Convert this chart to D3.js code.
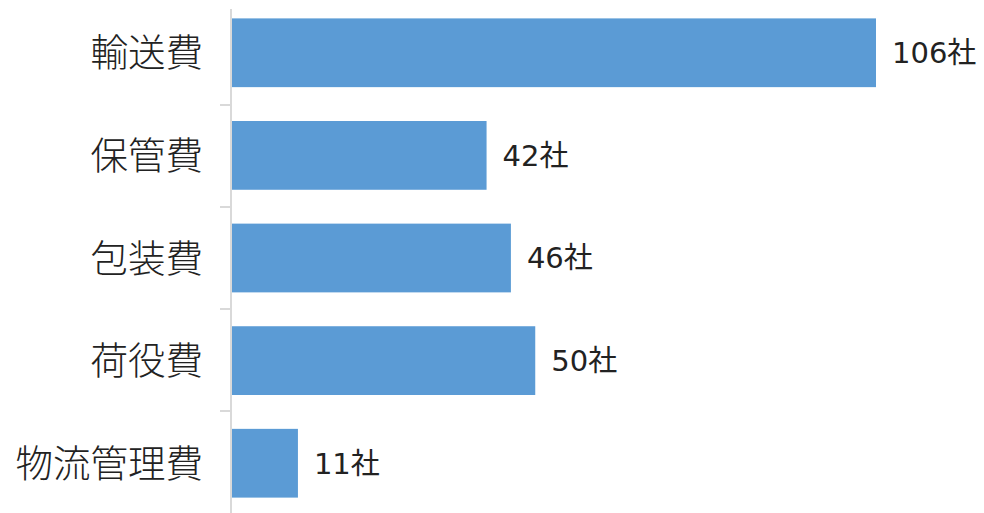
<!DOCTYPE html>
<html>
<head>
<meta charset="utf-8">
<script src="https://cdn.jsdelivr.net/npm/d3@7"></script>
<style>
  body { margin: 0; background: #fff; }
</style>
</head>
<body>
<div id="chart"></div>
<script>
const categories = ['輸送費', '保管費', '包装費', '荷役費', '物流管理費']
const counts = [106, 42, 46, 50, 11]
const unit = '社'

const margin = { top: 3, left: 231, right: 0, bottom: 0 }
const width = 984 - margin.left - margin.right
const height = 513 - margin.top - margin.bottom

const svg = d3
  .select('#chart')
  .append('svg')
  .attr('width', 984)
  .attr('height', 513)
  .append('g')
  .attr('transform', 'translate(' + margin.left + ',' + margin.top + ')')

const y = d3.scaleBand()
  .domain(categories)
  .range([0, height])
  .paddingInner(0.33)
  .paddingOuter(0.15)

// 0 at the axis, 106 ends around x=876
const x = d3.scaleLinear()
  .domain([0, 106])
  .range([0, 645])

svg.selectAll('.bar')
  .data(categories)
  .enter()
  .append('rect')
  .attr('class', 'bar')
  .attr('x', 0)
  .attr('y', d => y(d))
  .attr('width', (d, i) => x(counts[i]))
  .attr('height', y.bandwidth())
  .attr('fill', '#5b9bd5')

// boundary ticks between categories
const bounds = d3.range(1, categories.length).map(i => i * height / categories.length)
svg.selectAll('.tick-line')
  .data(bounds)
  .enter()
  .append('line')
  .attr('x1', -11)
  .attr('x2', 0)
  .attr('y1', d => d)
  .attr('y2', d => d)
  .attr('stroke', '#d9d9d9')
  .attr('stroke-width', 2)

svg.append('line')
  .attr('x1', 0)
  .attr('x2', 0)
  .attr('y1', 6)
  .attr('y2', height)
  .attr('stroke', '#d9d9d9')
  .attr('stroke-width', 2)

svg.selectAll('.cat')
  .data(categories)
  .enter()
  .append('text')
  .attr('x', -28)
  .attr('y', d => y(d) + y.bandwidth() / 2)
  .attr('dy', '0.36em')
  .attr('text-anchor', 'end')
  .attr('font-family', 'Noto Sans CJK JP')
  .attr('font-size', 37.5)
  .attr('font-weight', 300)
  .attr('fill', '#222')
  .text(d => d)

svg.selectAll('.val')
  .data(categories)
  .enter()
  .append('text')
  .attr('x', (d, i) => x(counts[i]) + 16)
  .attr('y', d => y(d) + y.bandwidth() / 2)
  .attr('dy', '0.36em')
  .attr('font-family', '"DejaVu Sans", "Noto Sans CJK JP"')
  .attr('font-size', 29)
  .attr('fill', '#222')
  .text((d, i) => counts[i] + unit)
</script>
</body>
</html>
